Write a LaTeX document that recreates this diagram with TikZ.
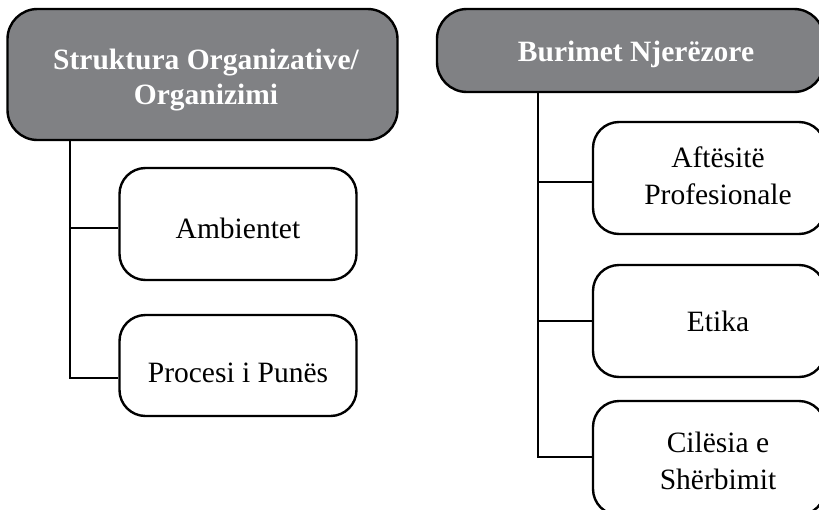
\documentclass[tikz,border=0pt]{standalone}
\usepackage{fontspec}
\setmainfont{Liberation Serif}
\definecolor{hdrgray}{RGB}{128,129,132}
\begin{document}
\begin{tikzpicture}[x=1pt,y=-1pt,
  hdrbox/.style={draw=black, line width=2.4pt, fill=hdrgray, rounded corners=30pt, inner sep=0pt},
  itembox/.style={draw=black, line width=2.4pt, fill=white, rounded corners=26pt, inner sep=0pt},
  hdrtext/.style={text=white, font=\fontsize{29.5}{35}\selectfont\bfseries, align=center, inner sep=0pt},
  itemtext/.style={font=\fontsize{29.5}{37}\selectfont, align=center, inner sep=0pt},
  conn/.style={line width=2.4pt}]
\useasboundingbox (0,0) rectangle (819,509);

% left column
\node[hdrbox, minimum width=390pt, minimum height=131pt] (h1) at (202.5,74.5) {};
\node[hdrtext] (th1) at (206,80) {Struktura Organizative/\\Organizimi};
\node[itembox, minimum width=237pt, minimum height=112pt] (c1) at (238,224) {};
\node[itemtext] (tc1) at (238,228) {Ambientet};
\node[itembox, minimum width=237pt, minimum height=101pt] (c2) at (238,365.5) {};
\node[itemtext] (tc2) at (238,373) {Procesi i Punës};

\coordinate (s1) at (70,0);
\coordinate (k1) at (70,228);
\coordinate (k2) at (70,378);
\draw[conn] (s1 |- h1.south) -- (k2) -- (k2 -| c2.west);
\draw[conn] (k1) -- (k1 -| c1.west);

% right column
\node[hdrbox, minimum width=387pt, minimum height=83pt] (h2) at (630.5,50.5) {};
\node[hdrtext] (th2) at (636,54) {Burimet Njerëzore};
\node[itembox, minimum width=232pt, minimum height=112pt] (d1) at (709,178) {};
\node[itemtext] (td1) at (718,176) {Aftësitë\\Profesionale};
\node[itembox, minimum width=232pt, minimum height=112pt] (d2) at (709,321) {};
\node[itemtext] (td2) at (718,321) {Etika};
\node[itembox, minimum width=232pt, minimum height=114pt] (d3) at (709,458) {};
\node[itemtext] (td3) at (718,461) {Cilësia e\\Shërbimit};

\coordinate (s2) at (538,0);
\coordinate (m1) at (538,182);
\coordinate (m2) at (538,321);
\coordinate (m3) at (538,457);
\draw[conn] (s2 |- h2.south) -- (m3) -- (m3 -| d3.west);
\draw[conn] (m1) -- (m1 -| d1.west);
\draw[conn] (m2) -- (m2 -| d2.west);
\end{tikzpicture}
\end{document}
